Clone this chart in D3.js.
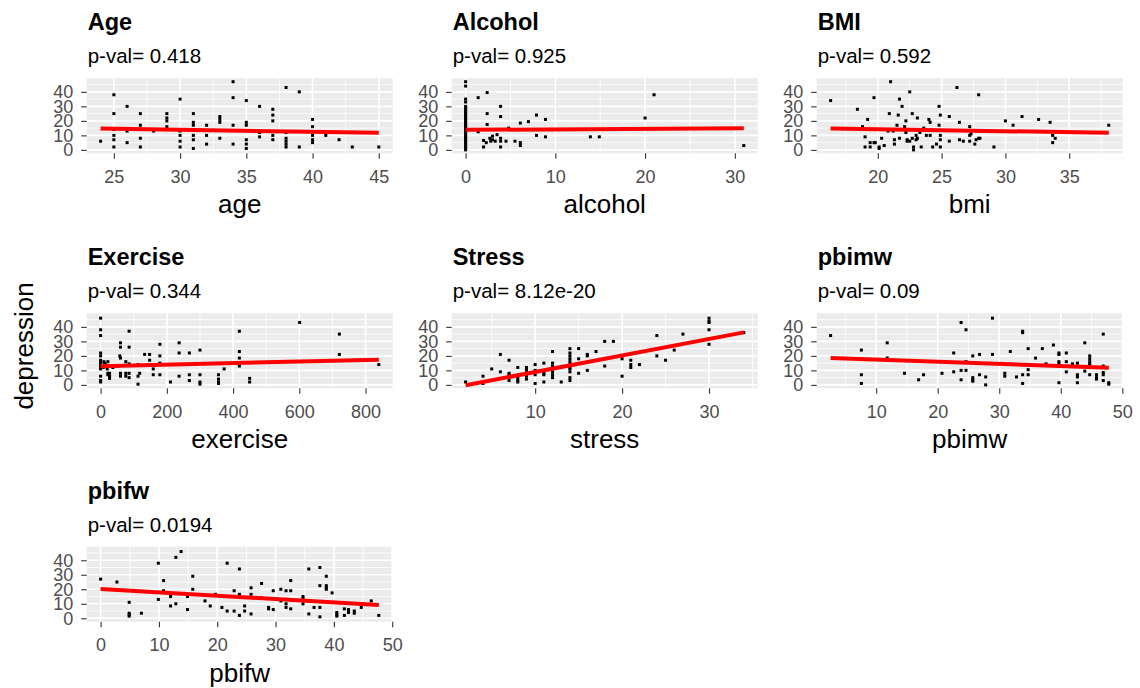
<!DOCTYPE html>
<html>
<head>
<meta charset="utf-8">
<script src="https://cdn.jsdelivr.net/npm/d3@7/dist/d3.min.js"></script>
<style>
  html, body { margin: 0; padding: 0; background: #ffffff; }
  svg { display: block; font-family: "Liberation Sans", Arial, sans-serif; }
</style>
</head>
<body>
<script>
// ---------------- DATA ----------------
const titles   = ["Age", "Alcohol", "BMI", "Exercise", "Stress", "pbimw", "pbifw"];
const pvals    = ["0.418", "0.925", "0.592", "0.344", "8.12e-20", "0.09", "0.0194"];
const xLabels  = ["age", "alcohol", "bmi", "exercise", "stress", "pbimw", "pbifw"];
const yLabel   = "depression";
const yTicks   = [0, 10, 20, 30, 40];

const ageTicks      = [25, 30, 35, 40, 45];
const alcoholTicks  = [0, 10, 20, 30];
const bmiTicks      = [20, 25, 30, 35];
const exerciseTicks = [0, 200, 400, 600, 800];
const stressTicks   = [10, 20, 30];
const pbimwTicks    = [10, 20, 30, 40, 50];
const pbifwTicks    = [0, 10, 20, 30, 40, 50];

const agePts = [[24,6],[25,38],[25,25],[25,14],[25,10],[25,7],[25,2],[26,30],[26,13],[26,5],[27,25],[27,17],[27,8],[27,2],[28,13],
  [29,25],[29,22],[29,20],[29,16],[30,35],[30,13],[30,10],[30,6],[30,2],[31,25],[31,19],[31,17],[31,10],[31,7],[31,1],
  [32,17],[32,10],[32,4],[33,23],[33,21],[33,19],[33,8],[34,47],[34,36],[34,17],[34,4],[35,34],[35,19],[35,17],[35,7],[35,4],[35,1],
  [36,30],[36,12],[36,9],[37,28],[37,24],[37,20],[37,10],[37,7],[38,43],[38,12],[38,8],[38,6],[38,4],[38,2],[39,40],[39,2],
  [40,21],[40,16],[40,10],[40,7],[40,5],[41,10],[42,7],[43,2],[45,2]];
const ageFit = [[24,14.7],[45,11.8]];

const alcoholPts = [[0,0],[0,1],[0,2],[0,3],[0,4],[0,5],[0,6],[0,7],[0,8],[0,9],[0,10],[0,11],[0,12],[0,13],[0,14],[0,15],[0,16],
  [0,17],[0,18],[0,19],[0,20],[0,21],[0,22],[0,23],[0,24],[0,25],[0,26],[0,27],[0,28],[0,29],[0,30],[0,33],[0,35],[0,44],[0,47],
  [1.4,36],[1.4,12.5],[2.4,39.5],[2.4,25],[2.4,17.5],[2,6.5],[2,2],[2.3,5],[2.7,8],[3,7],[3,9.5],[3.3,6],[3.5,10.5],[2.8,6],
  [3.9,30],[3.9,23],[3.9,8],[3.9,6],[3.9,2],[4.5,6],[4.8,15],[5.5,6],[6.1,18.5],[6.1,5],[6.1,3],[7,19.5],[7.9,24],[7.9,10],
  [8.9,21],[8.9,9],[13.9,9],[14.9,9],[20,22],[21,38],[31,3]];
const alcoholFit = [[0,13.8],[31,14.9]];

const bmiPts = [[16.3,34],[18.4,28],[18.8,16],[19.0,9],[19.0,2],[19.2,21],[19.4,5],[19.4,2],[19.7,5],[19.7,36],[19.8,5],[20.1,2],
  [20.1,1],[20.3,8],[20.5,3],[20.8,13],[20.9,25],[21.0,47],[21.2,13],[21.3,7],[21.3,4],[21.5,17],[21.6,24],[21.7,8],[21.7,35],
  [21.9,30],[22.1,16],[22.2,20],[22.2,12],[22.3,7],[22.3,6],[22.5,40],[22.5,14],[22.5,6],[22.7,25],[22.7,8],[22.8,2],[22.8,0],
  [23.0,10],[23.0,7],[23.1,8],[23.1,22],[23.3,12],[23.4,2],[23.6,15],[23.8,10],[24.0,21],[24.1,19],[24.1,10],[24.3,2],[24.6,4],
  [24.8,30],[24.8,17],[24.9,24],[24.9,10],[24.9,7],[24.9,2],[25.6,23],[25.6,6],[26.2,43],[26.4,19],[26.4,7],[26.7,6],[27.2,16],
  [27.2,10],[27.2,6],[27.3,11],[27.6,4],[27.7,7],[27.9,38],[27.9,8],[28.0,8],[29.1,2],[30.0,20],[30.6,17],[31.3,23],[32.6,21],
  [33.5,19],[33.7,5],[33.7,10],[33.9,8],[38.1,17]];
const bmiFit = [[16.3,14.7],[38.1,11.8]];

const exercisePts = [[0,46],[0,38],[0,34],[0,22],[0,20],[0,17],[0,16],[0,15],[0,14],[0,13],[0,12],[0,11],[0,6],[0,3],[0,2],
  [10,16],[12,15],[15,14],[8,12],[20,11],[22,8],[22,7],[22,16],[27,8],[27,6],[27,4.5],[37,12],[50,13],[58,20],[60,29],[60,26],
  [60,18.5],[60,8],[60,6],[76,16],[76,8],[76,6],[86,37],[86,26],[86,14.5],[86,8],[86,5],[113,0.5],[113,6],[113,14],[118,8],
  [133,21],[148,21],[148,17],[159,11],[159,7],[179,28],[179,20],[179,15],[179,7],[211,2],[237,29],[237,22],[237,6],[268,22],
  [268,7],[268,3],[300,24],[300,7],[300,2],[300,0.5],[356,7],[356,4],[356,2],[356,1],[373,11],[419,37],[419,23],[419,18.5],
  [419,13],[450,4.5],[450,2],[601,43],[721,35],[721,21],[840,14]];
const exerciseFit = [[0,12.9],[840,17.4]];

const stressPts = [[2,2],[4,6],[4,1],[5,11],[6,21],[6,9],[7,17],[7,8],[7,7],[7,3],[8,12],[8,5],[8,3],[8,2],[9,12],[9,10],[9,6],
  [9,4],[10,14],[10,10],[10,7],[10,1],[11,15],[11,8],[11,7],[11,2],[12,23],[12,15],[12,13],[12,11],[12,9],[12,7],[12,5],[13,2],
  [14,25],[14,22],[14,20],[14,18],[14,16],[14,14],[14,12],[14,11],[14,9],[14,5],[14,3],[15,25],[15,18],[15,8],[16,21],[16,20],
  [16,10],[17,23],[18,30],[18,13],[19,30],[20,18],[20,6],[21,17],[21,14],[21,12],[22,14],[24,34],[24,20],[25,17],[26,24],
  [27,35],[30,46],[30,44],[30,43],[30,38],[30,28],[34,36]];
const stressFit = [[2,-0.2],[34,36.2]];

const pbimwPts = [[2.6,34],[7.6,24],[7.6,7],[7.6,1],[11.8,29],[11.8,18.5],[14.6,8],[16.9,3.5],[17.7,7],[20.7,8],[22.6,22],
  [22.6,9],[23.8,43],[23.8,10],[23.8,3.5],[24.6,38],[24.6,16],[24.6,10],[25.7,20],[25.7,5],[25.7,3.5],[25.7,2.5],[26.8,21],
  [26.8,7],[27.8,5.5],[27.8,0],[28.9,46],[28.9,21],[30.9,8],[30.9,6],[31.8,23],[32.8,5.5],[33.8,37],[33.8,36],[33.8,7],
  [33.8,1],[34.7,25],[34.7,10.5],[34.7,7],[35.9,18.5],[37,25],[37.6,14.5],[38.8,27.5],[39.7,22],[39.7,21],[39.7,16],[39.7,15],
  [39.7,1.5],[40.9,22],[40.9,16],[40.9,9],[41.9,14.5],[42.7,15],[42.7,7],[42.7,5.5],[42.7,1.5],[43.9,29],[43.9,9.5],[44.7,20],
  [44.7,18],[44.7,16],[44.7,14.5],[44.7,13],[44.7,7],[45.8,12],[45.8,7],[45.8,5],[45.8,4],[46.9,35],[46.9,13],[46.9,8.5],
  [46.9,7],[46.9,3],[47.8,1.5],[47.8,0.5]];
const pbimwFit = [[2.6,18.5],[47.8,11.8]];

const pbifwPts = [[0,27],[2.8,25],[4.9,11],[4.9,3.5],[4.9,2.5],[4.9,1.5],[7,3.5],[9.9,38],[9.9,13],[10.8,26],[10.8,19],[12,15],
  [12,8.5],[12.9,42],[12.9,10],[13.8,46],[14.9,15],[14.9,6],[15.8,29],[15.8,20],[17.9,12],[18.8,8.5],[19.7,16.5],[20.8,7.5],
  [21.7,38],[21.7,5],[22.9,19],[22.9,5],[23.8,34],[23.8,16.5],[23.8,2],[24.7,8.5],[24.7,5],[25.8,21],[25.8,16.5],[25.8,3],
  [27.6,24],[27.6,14],[28.8,7.5],[28.8,6.5],[29.6,19],[29.6,6],[30.9,20],[30.9,12],[31.8,19],[31.8,10],[31.8,7.5],[32.6,26],
  [32.6,19],[32.6,6.5],[34.7,15],[34.7,13.5],[34.7,10],[35.7,34],[35.7,3],[36.6,7.5],[37.6,35],[37.6,22.5],[37.6,7.5],[37.6,1],
  [38.7,29],[38.7,22.5],[38.7,21],[38.7,20],[39.7,17.5],[40.5,4],[40.5,2.5],[40.5,1.5],[41.8,6.5],[41.8,2],[42.5,6],[42.5,4],
  [43.5,5],[43.5,3.5],[44.7,7.5],[46.4,12],[47.7,2]];
const pbifwFit = [[0,20.2],[47.7,9.2]];

const pointSets = [agePts, alcoholPts, bmiPts, exercisePts, stressPts, pbimwPts, pbifwPts];
const fitSets   = [ageFit, alcoholFit, bmiFit, exerciseFit, stressFit, pbimwFit, pbifwFit];
const tickSets  = [ageTicks, alcoholTicks, bmiTicks, exerciseTicks, stressTicks, pbimwTicks, pbifwTicks];

// ---------------- LAYOUT ----------------
const W = 1140, H = 688;
const colLeft = [86.7, 451.7, 816.7];
const rowTop  = [78.3, 313.3, 546.7];
const PW = 306, PH = 75;
const FONT = '"Liberation Sans", Arial, sans-serif';

const svg = d3.select("body").append("svg").attr("width", W).attr("height", H);
svg.append("rect").attr("width", W).attr("height", H).attr("fill", "#ffffff");

// shared y domain (ggplot default 5% expansion)
const allY = pointSets.flat().map(d => d[1]);
const yLo = d3.min(allY), yHi = d3.max(allY), yPad = 0.05 * (yHi - yLo);
const yDomain = [yLo - yPad, yHi + yPad];

function minorBreaks(ticks, dom) {
  const step = ticks[1] - ticks[0];
  const out = [];
  for (let v = ticks[0] - step / 2; v <= ticks[ticks.length - 1] + step / 2 + 1e-9; v += step) {
    if (v >= dom[0] && v <= dom[1]) out.push(v);
  }
  return out;
}

pointSets.forEach((pts, i) => {
  const col = i % 3, row = Math.floor(i / 3);
  const L = colLeft[col], T = rowTop[row];
  const g = svg.append("g").attr("transform", `translate(${L},${T})`);

  const xs = pts.map(d => d[0]);
  const xLo = d3.min(xs), xHi = d3.max(xs), xPad = 0.05 * (xHi - xLo);
  const xDom = [xLo - xPad, xHi + xPad];
  const x = d3.scaleLinear().domain(xDom).range([0, PW]);
  const y = d3.scaleLinear().domain(yDomain).range([PH, 0]);
  const xt = tickSets[i];

  // panel background
  g.append("rect").attr("width", PW).attr("height", PH).attr("fill", "#EBEBEB");

  // minor grid
  g.selectAll(".mx").data(minorBreaks(xt, xDom)).enter().append("line")
    .attr("x1", d => x(d)).attr("x2", d => x(d)).attr("y1", 0).attr("y2", PH)
    .attr("stroke", "#ffffff").attr("stroke-width", 0.8);
  g.selectAll(".my").data(minorBreaks(yTicks, yDomain)).enter().append("line")
    .attr("y1", d => y(d)).attr("y2", d => y(d)).attr("x1", 0).attr("x2", PW)
    .attr("stroke", "#ffffff").attr("stroke-width", 0.8);
  // major grid
  g.selectAll(".gx").data(xt.filter(v => v >= xDom[0] && v <= xDom[1])).enter().append("line")
    .attr("x1", d => x(d)).attr("x2", d => x(d)).attr("y1", 0).attr("y2", PH)
    .attr("stroke", "#ffffff").attr("stroke-width", 1.6);
  g.selectAll(".gy").data(yTicks).enter().append("line")
    .attr("y1", d => y(d)).attr("y2", d => y(d)).attr("x1", 0).attr("x2", PW)
    .attr("stroke", "#ffffff").attr("stroke-width", 1.6);

  // points
  g.selectAll(".pt").data(pts).enter().append("rect")
    .attr("x", d => x(d[0]) - 1.5).attr("y", d => y(d[1]) - 1.5)
    .attr("width", 3).attr("height", 3).attr("fill", "#000000");

  // fit line
  g.append("path").datum(fitSets[i])
    .attr("d", d3.line().x(d => x(d[0])).y(d => y(d[1])))
    .attr("fill", "none").attr("stroke", "#FF0000").attr("stroke-width", 4);

  // axes
  const xa = g.append("g").attr("transform", `translate(0,${PH})`)
    .call(d3.axisBottom(x).tickValues(xt).tickSize(5.5).tickPadding(11.5).tickFormat(d3.format("d")));
  const ya = g.append("g")
    .call(d3.axisLeft(y).tickValues(yTicks).tickSize(5.5).tickPadding(8).tickFormat(d3.format("d")));
  [xa, ya].forEach(a => {
    a.select(".domain").remove();
    a.selectAll(".tick line").attr("stroke", "#333333").attr("stroke-width", 1.1);
    a.selectAll(".tick text").attr("fill", "#4D4D4D").style("font-size", "18px").style("font-family", FONT);
  });

  // titles
  g.append("text").attr("x", 1).attr("y", -48).text(titles[i])
    .style("font-family", FONT).style("font-size", "23.5px").style("font-weight", "bold").attr("fill", "#000");
  g.append("text").attr("x", 1).attr("y", -15).text("p-val= " + pvals[i])
    .style("font-family", FONT).style("font-size", "20.5px").attr("fill", "#000");
  g.append("text").attr("x", PW / 2).attr("y", PH + 60).attr("text-anchor", "middle").text(xLabels[i])
    .style("font-family", FONT).style("font-size", "26px").attr("fill", "#000");
});

svg.append("text").attr("transform", "translate(33,346) rotate(-90)").attr("text-anchor", "middle")
  .text(yLabel).style("font-family", FONT).style("font-size", "26px").attr("fill", "#000");
</script>
</body>
</html>
